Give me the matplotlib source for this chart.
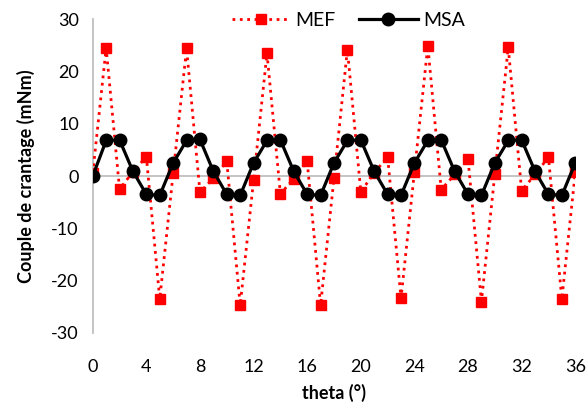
import matplotlib
matplotlib.use("Agg")
import matplotlib.pyplot as plt

theta = list(range(0, 37))
mef = [0.5, 24.5, -2.5, 0.8, 3.7, -23.5, 0.5, 24.4, -3.1, -0.4, 2.8, -24.7, -0.8,
       23.5, -3.4, -0.5, 2.8, -24.7, -0.4, 24.2, -3.0, 0.6, 3.7, -23.4, 0.8,
       24.9, -2.6, 0.3, 3.2, -24.0, 0.4, 24.6, -2.8, 0.3, 3.6, -23.5, 0.7]
msa = [0.0, 6.8, 6.9, 0.9, -3.5, -3.7, 2.5, 6.8, 7.0, 0.9, -3.5, -3.7, 2.5,
       6.8, 6.9, 0.9, -3.5, -3.7, 2.5, 6.8, 6.9, 0.9, -3.5, -3.7, 2.5,
       6.8, 6.9, 0.9, -3.5, -3.7, 2.5, 6.8, 6.9, 0.9, -3.5, -3.7, 2.5]
xticks = [0, 4, 8, 12, 16, 20, 24, 28, 32, 36]
yticks = [-30, -20, -10, 0, 10, 20, 30]

plt.rcParams['font.family'] = ['Lato', 'DejaVu Sans']
plt.rcParams['axes.unicode_minus'] = False

fig = plt.figure(figsize=(5.87, 4.08), dpi=100)
ax = fig.add_axes([0.158, 0.184, 0.822, 0.769])

ax.axhline(0, color='#bfbfbf', lw=1.3, zorder=1)
ax.plot(theta, mef, color='#ff0000', ls=':', lw=2, marker='s', ms=7.5,
        label='MEF', zorder=3)
ax.plot(theta, msa, color='black', ls='-', lw=2.3, marker='o', ms=9,
        label='MSA', zorder=4)

ax.set_xlim(0, 36)
ax.set_ylim(-30, 30)
ax.set_xticks(xticks)
ax.set_yticks(yticks)
ax.tick_params(axis='both', length=0, labelsize=13)
ax.tick_params(axis='x', pad=19)
ax.tick_params(axis='y', pad=10)
for s in ['top', 'right', 'bottom']:
    ax.spines[s].set_visible(False)
ax.spines['left'].set_color('#bfbfbf')
ax.spines['left'].set_linewidth(1.3)
ax.set_xlabel('theta (°)', fontsize=13, fontweight='bold', labelpad=6)
ax.set_ylabel('Couple de crantage (mNm)', fontsize=13, fontweight='bold', labelpad=12)
for sp in ax.spines.values():
    sp.set_clip_on(False)

leg = ax.legend(loc='upper center', bbox_to_anchor=(0.53, 1.08), ncol=2, frameon=False,
                fontsize=14, handlelength=3, columnspacing=1.2, handletextpad=0.3)

fig.savefig('out.png', dpi=100)
